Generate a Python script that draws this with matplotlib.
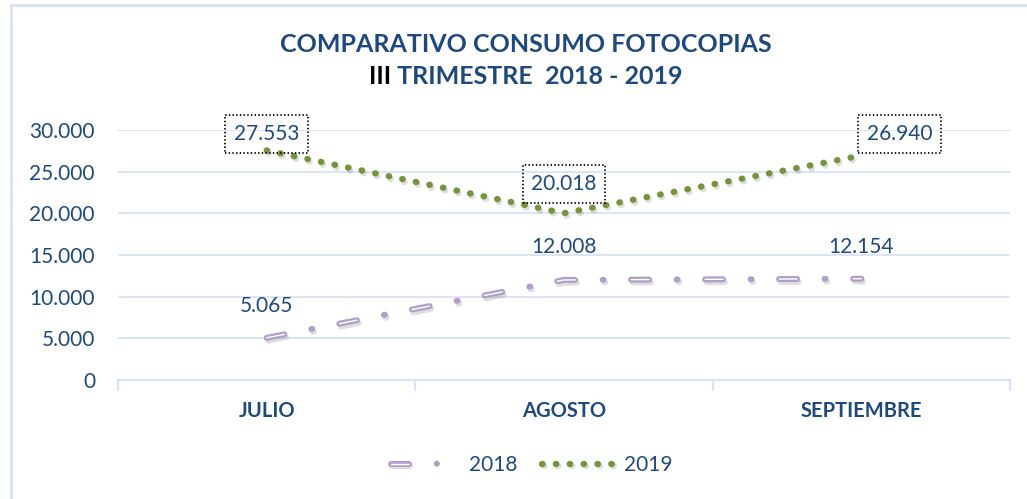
import numpy as np
import matplotlib
matplotlib.rcParams['lines.scale_dashes'] = False
import matplotlib.pyplot as plt
import matplotlib.patheffects as pe
from matplotlib.legend_handler import HandlerBase
from matplotlib.lines import Line2D
from matplotlib.patches import Rectangle

plt.rcParams['font.family'] = ['Lato', 'DejaVu Sans']

# data
meses = ['JULIO', 'AGOSTO', 'SEPTIEMBRE']
v2018 = [5065, 12008, 12154]
v2019 = [27553, 20018, 26940]
yticks = [0, 5000, 10000, 15000, 20000, 25000, 30000]

BLUE = '#1F497D'
GRID = '#D9E3F3'
PURPLE = '#B09FC8'
GREEN = '#77933C'
W, H = 1027, 499


def px(v):
    # pixels -> points at 100 dpi
    return v * 0.72


shadow = [pe.SimpleLineShadow(offset=(1.2, -2), shadow_color='#7F7F7F', alpha=0.25), pe.Normal()]


class DashDotHandler(HandlerBase):
    # legend sample for the double-line dash + dot style
    def create_artists(self, legend, orig_handle, xdescent, ydescent,
                       width, height, fontsize, trans):
        y = height / 2 - ydescent
        x0 = -xdescent
        xs = [x0 + px(3), x0 + px(21)]
        dash = Line2D(xs, [y, y], color=PURPLE, lw=px(6), solid_capstyle='round',
                      path_effects=shadow)
        inner = Line2D(xs, [y, y], color='white', lw=px(1.4), solid_capstyle='round')
        dot = Line2D([x0 + px(49)], [y], ls='none', marker='o', ms=px(6), mew=0,
                     color=PURPLE, path_effects=shadow)
        for a in (dash, inner, dot):
            a.set_transform(trans)
        return [dash, inner, dot]


fig = plt.figure(figsize=(W/100, H/100), dpi=100)
fig.patches.append(Rectangle((11/W, -0.1), 1.2, 1.1 - 5/H, transform=fig.transFigure,
                             fill=False, ec='#D6E3F5', lw=2))
ax = fig.add_axes([118/W, 1 - 380/H, (1010 - 118)/W, 250/H])

x = np.arange(len(meses))

l18a, = ax.plot(x, v2018, color=PURPLE, lw=px(6),
                dashes=[px(18), px(27.5), px(1), px(27.5)], dash_capstyle='round',
                clip_on=False, path_effects=shadow, zorder=3)
l18b, = ax.plot(x, v2018, color='white', lw=px(1.4),
                dashes=[px(18), px(56)], dash_capstyle='round', clip_on=False, zorder=4)

l19, = ax.plot(x, v2019, color=GREEN, lw=px(6.3),
               dashes=[0.4, px(13.3)], dash_capstyle='round',
               clip_on=False, path_effects=shadow, zorder=3)

# data labels
off18 = [(0, 32), (0, 32.5), (0, 32)]
for xi, v, (dx, dy) in zip(x, v2018, off18):
    ax.annotate(f'{v:,}'.replace(',', '.'), (xi, v), xytext=(px(dx), px(dy)),
                textcoords='offset points', ha='center', va='center',
                fontsize=15, color=BLUE, zorder=5)
off19 = [(0, 16.5), (0, 29), (38, 21.6)]
for xi, v, (dx, dy) in zip(x, v2019, off19):
    ax.annotate(f'{v:,}'.replace(',', '.'), (xi, v), xytext=(px(dx), px(dy)),
                textcoords='offset points', ha='center', va='center',
                fontsize=15, color=BLUE, zorder=5,
                bbox=dict(boxstyle='square,pad=0.42', fc='none', ec='black', ls=':', lw=1.3))

ax.set_xlim(-0.5, 2.5)
ax.set_ylim(0, 30000)
ax.set_yticks(yticks)
ax.set_yticklabels([f'{v:,}'.replace(',', '.') for v in yticks])
ax.set_xticks(x)
ax.set_xticklabels(meses, fontweight='bold')
ax.set_xticks([-0.5, 0.5, 1.5, 2.5], minor=True)
ax.tick_params(axis='y', length=0, pad=px(23), labelsize=15, labelcolor=BLUE)
ax.tick_params(axis='x', which='major', length=0, pad=px(21), labelsize=14.5, labelcolor=BLUE)
ax.tick_params(axis='x', which='minor', length=8, width=1.5, color=GRID, direction='out')
ax.grid(axis='y', color=GRID, lw=1.3)
ax.set_axisbelow(True)
for s in ['left', 'right', 'top']:
    ax.spines[s].set_visible(False)
ax.spines['bottom'].set_color(GRID)
ax.spines['bottom'].set_linewidth(1.5)

leg = fig.legend([l18a, l19], ['2018', '2019'],
                 handler_map={l18a: DashDotHandler()},
                 loc='center', bbox_to_anchor=(530/W, 1 - 465/H), ncol=2,
                 frameon=False, fontsize=15, handlelength=3.45, columnspacing=1.2,
                 handletextpad=0.45)
for t in leg.get_texts():
    t.set_color(BLUE)

# title
cx = 526 / W
fig.text(cx, 1 - 45/H, 'COMPARATIVO CONSUMO FOTOCOPIAS', ha='center', va='center',
         fontsize=18, fontweight='bold', color=BLUE)
ta = fig.text(0, 1 - 77/H, 'III', ha='left', va='center', fontsize=18,
              fontweight='bold', color='black')
tb = fig.text(0, 1 - 77/H, ' TRIMESTRE  2018 - 2019', ha='left', va='center',
              fontsize=18, fontweight='bold', color=BLUE)
r = fig.canvas.get_renderer()
wa = ta.get_window_extent(r).width / W
wb = tb.get_window_extent(r).width / W
ta.set_x(cx - (wa + wb) / 2)
tb.set_x(cx - (wa + wb) / 2 + wa)

fig.savefig('out.png', dpi=100)
